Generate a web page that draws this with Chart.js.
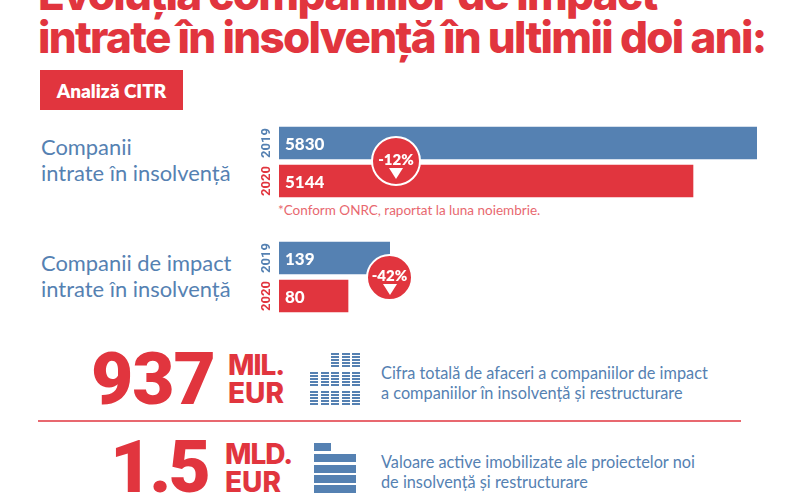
<!DOCTYPE html>
<html lang="ro">
<head>
<meta charset="utf-8">
<title>Evoluția companiilor de impact</title>
<script src="https://cdn.jsdelivr.net/npm/chart.js@4/dist/chart.umd.min.js"></script>
<style>
    html, body { margin: 0; padding: 0; background: #fff; }
    #page { position: relative; width: 800px; height: 497px; overflow: hidden; font-family: Lato, sans-serif; }
    #page > * { position: absolute; white-space: nowrap; }
    canvas { display: block; }
    .titlu { left: 38px; font: 800 44px/44px Inter, sans-serif; color: #e1353e; letter-spacing: -1.7px; }
    .eticheta { left: 41px; font-size: 21.9px; line-height: 26px; color: #5581b2; }
    .cifra { font: 900 73px/54px Roboto, sans-serif; color: #e1353e; letter-spacing: -1px; }
    .unitate { font: 800 28px/24px Inter, sans-serif; color: #e1353e; }
    .descriere { left: 381px; font-size: 16.3px; line-height: 20px; color: #5581b2; }
    .badge { box-sizing: border-box; border-radius: 50%; background: #e1353e; border: 2px solid #fff; color: #fff;
             font: 800 15px/15px Lato, sans-serif; text-align: center; }
    .badge i { display: block; width: 0; height: 0; margin: 1px auto 0; border-left: 7px solid transparent;
               border-right: 7px solid transparent; border-top: 11px solid #fff; }
    .bloc { background: repeating-linear-gradient(#5581b2 0 2px, transparent 2px 3px); }
    .rand { background: #5581b2; }
</style>
</head>
<body>
<div id="page">
    <div class="titlu" style="top:-28px">Evoluția companiilor de impact</div>
    <div class="titlu" style="top:15px">intrate în insolvență în ultimii doi ani:</div>
    <div style="left:40px;top:70px;width:143px;height:40px;background:#e1353e;color:#fff;font:800 19px/42px Lato,sans-serif;text-align:center">Analiză CITR</div>

    <div class="eticheta" style="top:134px">Companii<br>intrate în insolvență</div>
    <div class="eticheta" style="top:250px">Companii de impact<br>intrate în insolvență</div>

    <canvas id="graficTotal" style="left:255px;top:124px"></canvas>
    <canvas id="graficImpact" style="left:255px;top:239px"></canvas>

    <div style="left:278px;top:203px;font-size:13.5px;line-height:15px;color:#e8686f">*Conform ONRC, raportat la luna noiembrie.</div>

    <div class="badge" style="left:371px;top:136px;width:50px;height:50px;padding-top:14px">-12%<i></i></div>
    <div class="badge" style="left:366px;top:254px;width:47px;height:47px;padding-top:12px">-42%<i></i></div>

    <div class="cifra" style="left:91px;top:352px">937</div>
    <div class="unitate" style="left:228px;top:353px;letter-spacing:-1px">MIL.</div>
    <div class="unitate" style="left:228px;top:381px">EUR</div>
    <div class="descriere" style="top:363px">Cifra totală de afaceri a companiilor de impact<br>a companiilor în insolvență și restructurare</div>

    <div style="left:38px;top:420px;width:703px;height:2px;background:#e8686f"></div>

    <div class="cifra" style="left:110px;top:440px;letter-spacing:-3px">1.5</div>
    <div class="unitate" style="left:225px;top:442px;letter-spacing:-1px">MLD.</div>
    <div class="unitate" style="left:225px;top:470px">EUR</div>
    <div class="descriere" style="top:452px">Valoare active imobilizate ale proiectelor noi<br>de insolvență și restructurare</div>
</div>

<script>
    const years = ['2019', '2020'];
    const totalCompanies = [5830, 5144];
    const impactCompanies = [139, 80];

    const BLUE = '#5581b2';
    const RED = '#e1353e';

    // valoarea scrisa peste bara, la inceputul ei
    const valueLabels = {
        id: 'valueLabels',
        afterDatasetsDraw(chart) {
            const ctx = chart.ctx;
            const meta = chart.getDatasetMeta(0);
            ctx.save();
            ctx.fillStyle = '#fff';
            ctx.font = '900 17px Lato, sans-serif';
            ctx.textBaseline = 'middle';
            meta.data.forEach((bar, i) => {
                ctx.fillText(chart.data.datasets[0].data[i], chart.chartArea.left + 6, bar.y + 2);
            });
            ctx.restore();
        }
    };

    // axisMin: in original barele nu pornesc proportional de la zero
    function crearGrafico(canvasId, values, width, axisMin) {
        const canvas = document.getElementById(canvasId);
        canvas.width = width;
        canvas.height = 76;
        canvas.style.width = width + 'px';
        canvas.style.height = '76px';

        return new Chart(canvas, {
            type: 'bar',
            data: {
                labels: years,
                datasets: [{
                    data: values,
                    base: axisMin,
                    backgroundColor: [BLUE, RED],
                    barThickness: 32
                }]
            },
            options: {
                indexAxis: 'y',
                responsive: false,
                animation: false,
                layout: { padding: 0 },
                plugins: {
                    legend: { display: false },
                    tooltip: { enabled: false }
                },
                scales: {
                    x: { display: false, min: axisMin, max: values[0] },
                    y: {
                        afterFit: scale => {
                            scale.width = 24;
                            scale.paddingTop = 0;
                            scale.paddingBottom = 0;
                        },
                        grid: { display: false },
                        border: { display: false },
                        ticks: {
                            minRotation: 90,
                            maxRotation: 90,
                            crossAlign: 'center',
                            padding: -11,
                            font: { size: 13, weight: '700', family: 'Roboto, sans-serif' },
                            color: ctx => (ctx.index === 0 ? BLUE : RED)
                        }
                    }
                }
            },
            plugins: [valueLabels]
        });
    }

    crearGrafico('graficTotal', totalCompanies, 502, 707);
    crearGrafico('graficImpact', impactCompanies, 135, -17);

    // iconite decorative
    const page = document.getElementById('page');
    function addBox(cls, left, top, width, height) {
        const box = document.createElement('div');
        box.className = cls;
        box.style.cssText = `left:${left}px;top:${top}px;width:${width}px;height:${height}px`;
        page.appendChild(box);
    }
    [310, 320.5, 331, 341.5, 352].forEach((left, col) => {
        [353, 372, 391].forEach((top, row) => {
            if (row > 0 || col > 1) addBox('bloc', left, top, 8, 15);
        });
    });
    addBox('rand', 314, 443, 17, 8);
    [454, 464.5, 475, 485].forEach(top => addBox('rand', 314, top, 42, 8));
</script>
</body>
</html>
